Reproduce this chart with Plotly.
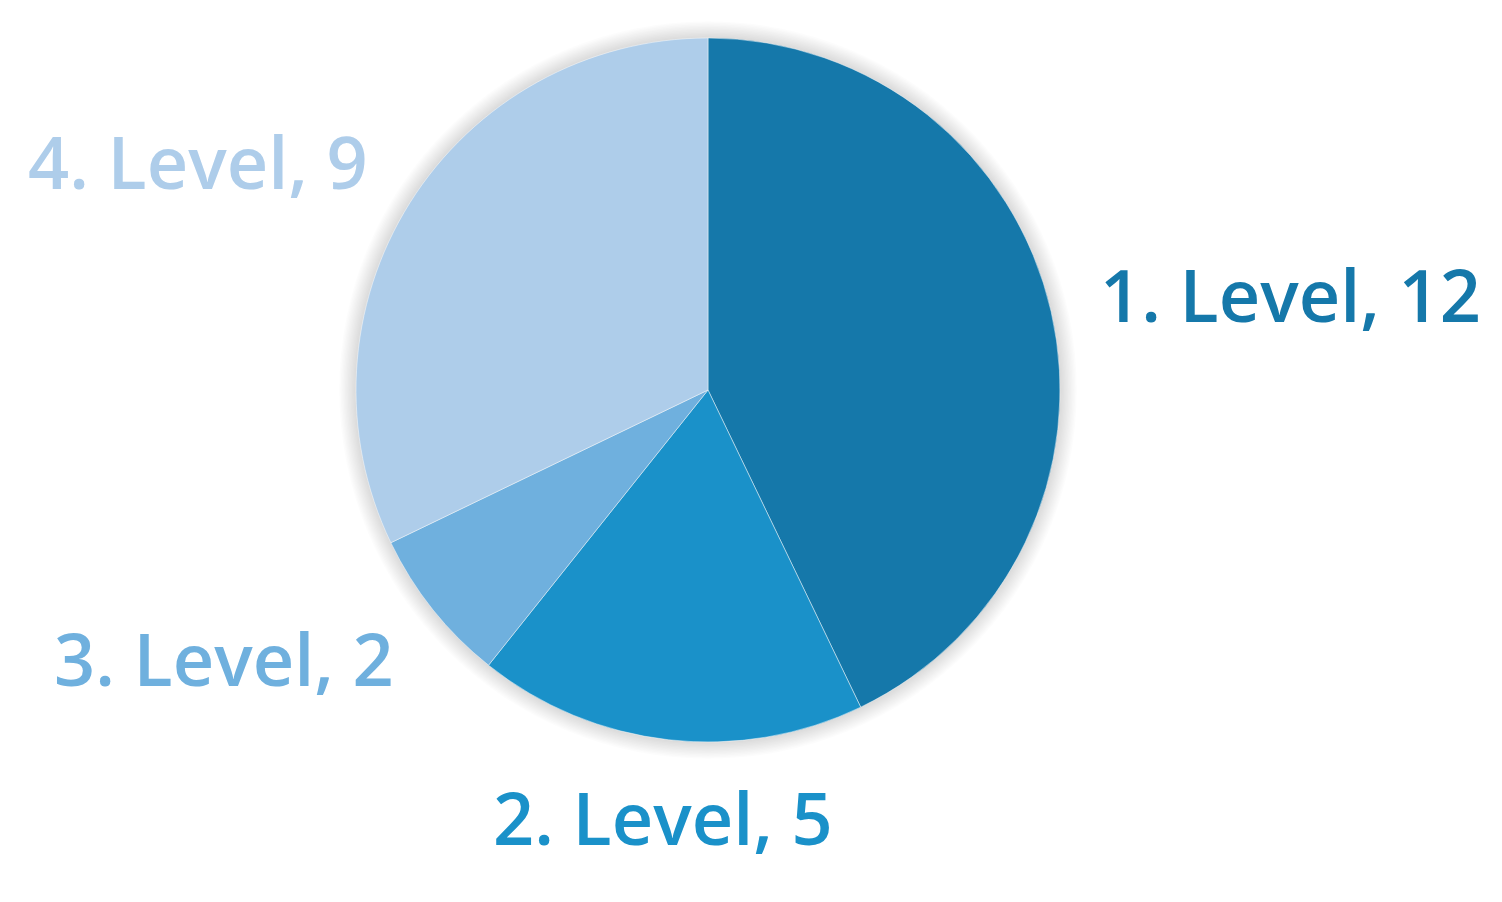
import math
import plotly.graph_objects as go

labels = ["1. Level", "2. Level", "3. Level", "4. Level"]
values = [12, 5, 2, 9]
colors = ["#1578AA", "#1A91C9", "#6FB0DE", "#AECDEA"]

W, H = 1502, 902
OFF = 8  # page body margin
cx, cy, r = 708, 390, 352  # screen pixels


def px(sx):
    return (sx - OFF) / W


def py(sy):
    return 1 - (sy - OFF) / H


fig = go.Figure(go.Pie(
    labels=labels,
    values=values,
    sort=False,
    direction="clockwise",
    rotation=0,
    marker=dict(colors=colors, line=dict(color="rgba(255,255,255,0.45)", width=1)),
    textinfo="none",
    showlegend=False,
    hoverinfo="label+value",
    domain=dict(x=[px(cx - r), px(cx + r)], y=[py(cy + r), py(cy - r)]),
))

# soft shadow around the pie
shapes = []
for k in range(1, 13):
    rr = r + k * 1.4
    shapes.append(dict(
        type="circle", xref="paper", yref="paper", layer="below",
        x0=px(cx - rr), x1=px(cx + rr), y0=py(cy + rr), y1=py(cy - rr),
        fillcolor="rgba(0,0,0,0.012)", line=dict(width=0),
    ))

# labels placed from the slice mid-angles
total = sum(values)
annotations = []
cum = 0
for lab, v, col in zip(labels, values, colors):
    mid = (cum + v / 2) / total * 2 * math.pi
    cum += v
    s, c = math.sin(mid), math.cos(mid)
    d = r * 1.135
    sx, sy = cx + s * d, cy - c * d
    xa = "left" if s > 0.3 else ("right" if s < -0.3 else "center")
    annotations.append(dict(
        x=px(sx), y=py(sy), xref="paper", yref="paper",
        text=f"{lab}, {v}", showarrow=False, xanchor=xa, yanchor="middle",
        yshift=c * 30,
        font=dict(family="Open Sans", size=72, color=col, weight=600),
    ))

fig.update_layout(
    width=W, height=H,
    margin=dict(l=0, r=0, t=0, b=0),
    paper_bgcolor="white",
    plot_bgcolor="white",
    shapes=shapes,
    annotations=annotations,
)
fig.write_html("out.html")
